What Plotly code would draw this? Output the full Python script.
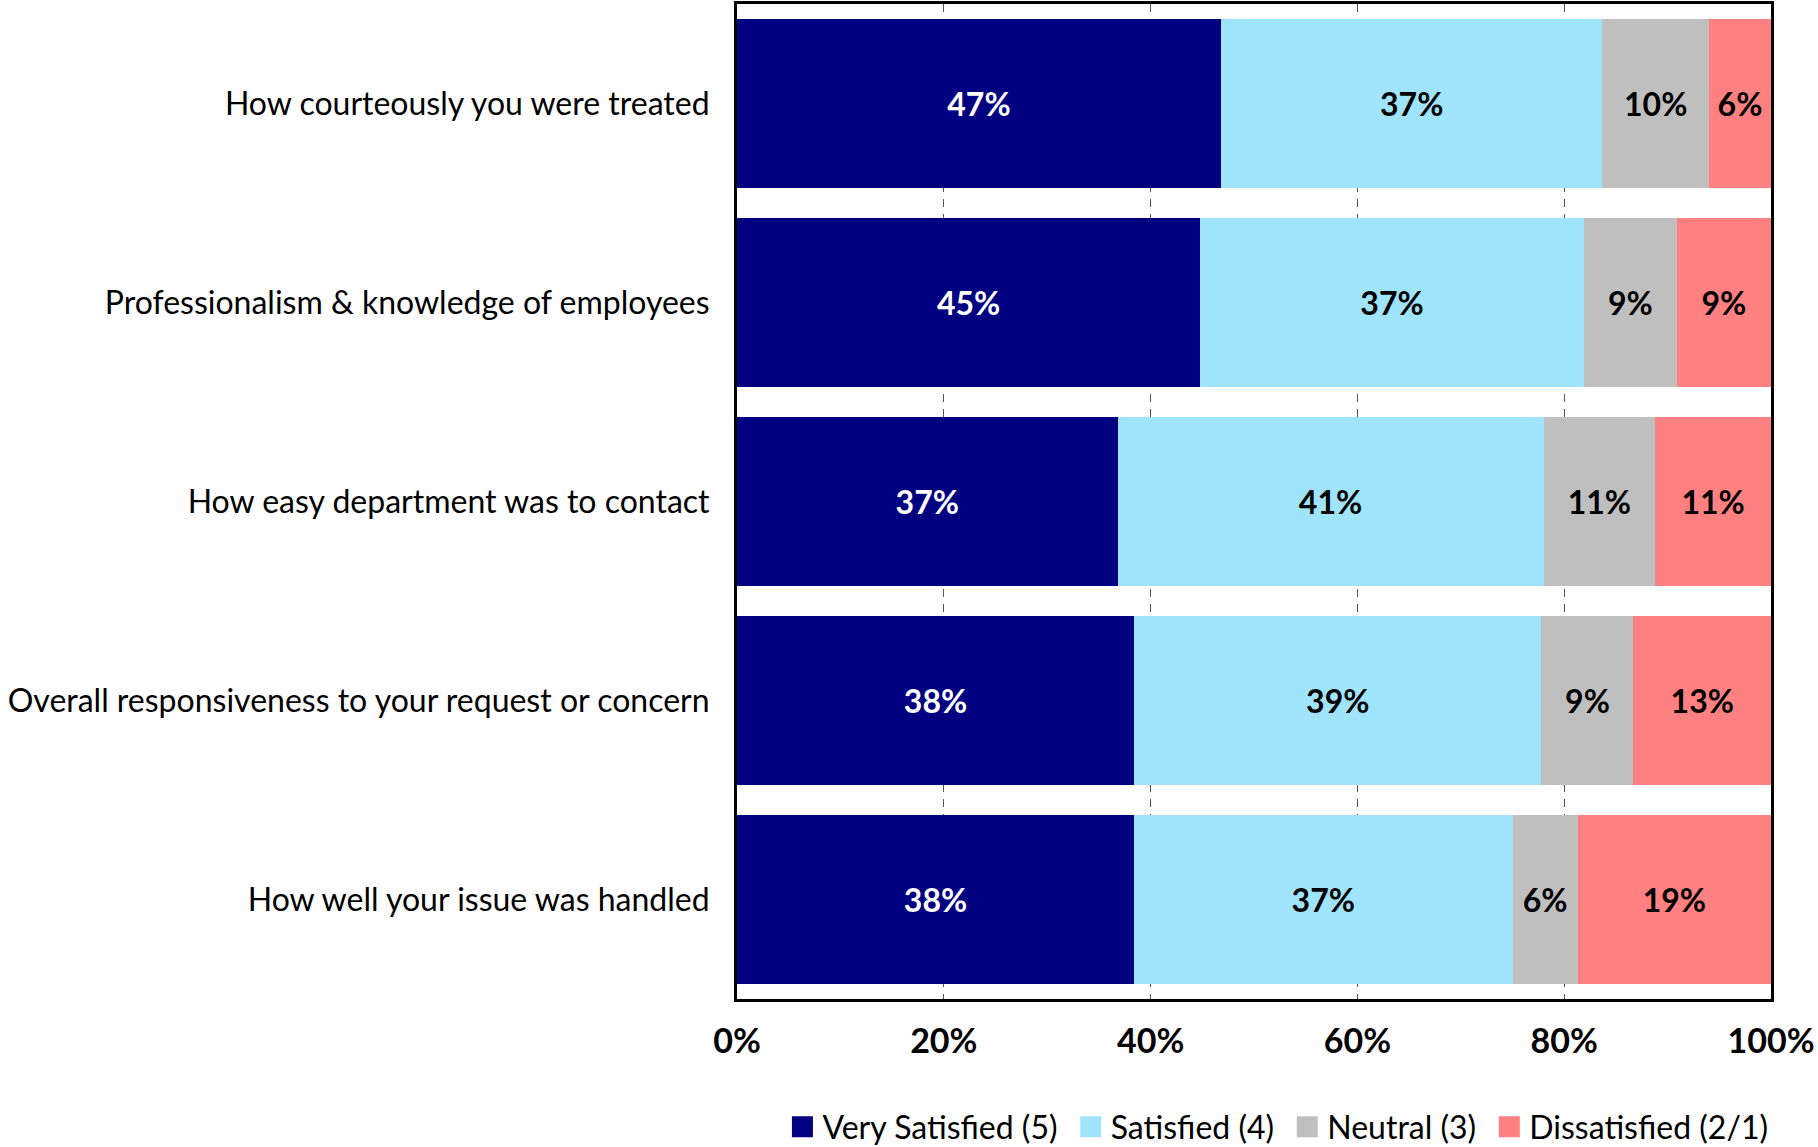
import plotly.graph_objects as go

# Survey questions (top to bottom)
questions = [
    "How courteously you were treated",
    "Professionalism & knowledge of employees",
    "How easy department was to contact",
    "Overall responsiveness to your request or concern",
    "How well your issue was handled",
]

# Share of responses per rating (percent of respondents)
very_satisfied = [46.8, 44.8, 36.8, 38.4, 38.4]
satisfied = [36.9, 37.1, 41.2, 39.4, 36.6]
neutral = [10.3, 9.0, 10.8, 8.9, 6.3]
dissatisfied = [6.0, 9.1, 11.2, 13.3, 18.7]

series_names = ["Very Satisfied (5)", "Satisfied (4)", "Neutral (3)", "Dissatisfied (2/1)"]
series_values = [very_satisfied, satisfied, neutral, dissatisfied]
series_colors = ["#000080", "#A0E4FC", "#BFBFBF", "#FF8080"]
label_colors = ["white", "black", "black", "black"]

x_ticks = [0, 20, 40, 60, 80, 100]
x_tick_text = [f"{t}%" for t in x_ticks]

FONT = "Lato"

fig = go.Figure()

for name, vals, color, lc in zip(series_names, series_values, series_colors, label_colors):
    fig.add_trace(go.Bar(
        y=questions,
        x=vals,
        name=name,
        orientation="h",
        marker=dict(color=color, line=dict(width=0)),
        text=vals,
        texttemplate="%{x:.0f}%",
        textposition="inside",
        insidetextanchor="middle",
        textangle=0,
        constraintext="none",
        textfont=dict(family=FONT, size=32, color=lc, weight="bold"),
        showlegend=False,
        hoverinfo="skip",
    ))

# Legend entries with larger square swatches (a trailing no-break space widens the gap between entries)
for name, color in zip(series_names, series_colors):
    fig.add_trace(go.Scatter(
        x=[None], y=[None],
        mode="markers",
        name=name + "\u00a0",
        marker=dict(symbol="square", size=16, color=color,
                    line=dict(color=color, width=5)),
        showlegend=True,
    ))

fig.update_layout(
    width=1818,
    height=1147,
    barmode="stack",
    bargap=0.15,
    plot_bgcolor="white",
    paper_bgcolor="white",
    margin=dict(l=737, r=47, t=4, b=148, autoexpand=False),
    font=dict(family=FONT, color="black"),
    legend=dict(
        orientation="h",
        x=0.527, xref="paper", xanchor="center",
        y=0.0174, yref="container", yanchor="middle",
        font=dict(family=FONT, size=32, color="black"),
        itemwidth=30,
        traceorder="normal",
        tracegroupgap=0,
    ),
)

fig.update_xaxes(
    range=[0, 100],
    tickvals=x_ticks,
    ticktext=x_tick_text,
    tickfont=dict(family=FONT, size=34, color="black", weight="bold"),
    ticks="",
    ticklabelstandoff=10,
    showgrid=True,
    gridcolor="#555555",
    gridwidth=1,
    griddash="8px,7px",
    showline=True,
    linecolor="black",
    linewidth=3,
    mirror=True,
    zeroline=False,
    fixedrange=True,
)

fig.update_yaxes(
    categoryorder="array",
    categoryarray=questions,
    autorange="reversed",
    tickfont=dict(family=FONT, size=32, color="black"),
    ticks="",
    ticklabelstandoff=18,
    showgrid=False,
    showline=True,
    linecolor="black",
    linewidth=3,
    mirror=True,
    fixedrange=True,
)

fig.write_html("out.html")
